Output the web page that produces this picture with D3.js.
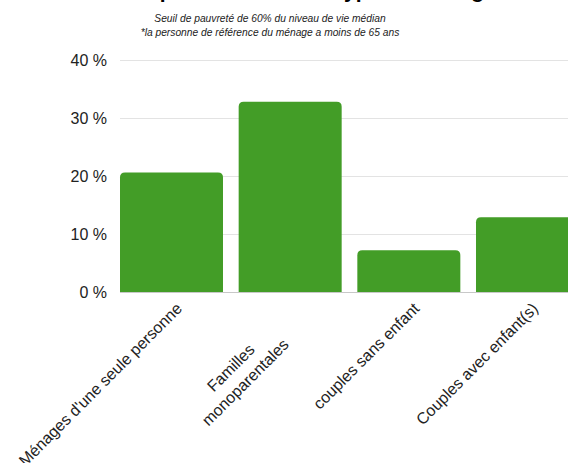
<!DOCTYPE html>
<html>
<head>
<meta charset="utf-8">
<script src="https://cdn.jsdelivr.net/npm/d3@7"></script>
<style>
  body { margin: 0; background: #fff; }
  svg { display: block; font-family: "Liberation Sans", Arial, sans-serif; }
</style>
</head>
<body>
<svg id="chart"></svg>
<script>
const title = 'Taux de pauvreté selon le type de ménage*';
const subtitle = [
  'Seuil de pauvreté de 60% du niveau de vie médian',
  '*la personne de référence du ménage a moins de 65 ans'
];
const categories = [
  ['Ménages d\'une seule personne'],
  ['Familles', 'monoparentales'],
  ['couples sans enfant'],
  ['Couples avec enfant(s)']
];
const values = [20.6, 32.8, 7.2, 12.9];
const yTicks = [0, 10, 20, 30, 40];

const width = 568;
const height = 463;
const margin = { top: 60, left: 120, bottom: 171 };
const plotRight = 579;
const barColor = '#439d27';
const radius = 5;

const svg = d3.select('#chart')
  .attr('width', width)
  .attr('height', height);

const x = d3.scaleBand()
  .domain(d3.range(categories.length))
  .range([margin.left, plotRight])
  .paddingInner(0.132)
  .paddingOuter(0);

const y = d3.scaleLinear()
  .domain([0, 40])
  .range([height - margin.bottom, margin.top]);

// title, mostly above the frame
svg.append('text')
  .attr('x', 76)
  .attr('y', -2.5)
  .attr('font-size', 21)
  .attr('font-weight', 'bold')
  .attr('fill', '#000')
  .text(title);

svg.selectAll('.subtitle')
  .data(subtitle)
  .enter()
  .append('text')
    .attr('class', 'subtitle')
    .attr('x', 270)
    .attr('y', (d, i) => 22 + i * 14)
    .attr('text-anchor', 'middle')
    .attr('font-size', 10.25)
    .attr('font-style', 'italic')
    .attr('fill', '#222')
    .text(d => d);

// grid
svg.selectAll('.grid')
  .data(yTicks)
  .enter()
  .append('line')
    .attr('class', 'grid')
    .attr('x1', margin.left)
    .attr('x2', width)
    .attr('y1', d => Math.round(y(d)) + 0.5)
    .attr('y2', d => Math.round(y(d)) + 0.5)
    .attr('stroke', d => d === 0 ? '#c8c8c8' : '#e3e3e3')
    .attr('stroke-width', 1);

svg.selectAll('.ytick')
  .data(yTicks)
  .enter()
  .append('text')
    .attr('class', 'ytick')
    .attr('x', 107)
    .attr('y', d => y(d))
    .attr('dy', '0.35em')
    .attr('text-anchor', 'end')
    .attr('font-size', 16)
    .attr('fill', '#222')
    .text(d => `${d} %`);

// bars with rounded tops
const barPath = (i) => {
  const x0 = x(i);
  const x1 = x0 + x.bandwidth();
  const y0 = y(0);
  const y1 = y(values[i]);
  const r = Math.min(radius, y0 - y1);
  return `M${x0},${y0}V${y1 + r}Q${x0},${y1} ${x0 + r},${y1}`
    + `H${x1 - r}Q${x1},${y1} ${x1},${y1 + r}V${y0}Z`;
};

svg.selectAll('.bar')
  .data(values)
  .enter()
  .append('path')
    .attr('class', 'bar')
    .attr('d', (d, i) => barPath(i))
    .attr('fill', barColor);

// rotated category labels
const lineH = 20.5;
const wrapShift = -34;
const wrapTop = -3.4;

const labels = svg.selectAll('.xlabel')
  .data(categories)
  .enter()
  .append('text')
    .attr('class', 'xlabel')
    .attr('font-size', 16)
    .attr('fill', '#222')
    .attr('transform', (d, i) => {
      const cx = x(i) + x.bandwidth() / 2;
      return `translate(${cx + 3.5},${301.5}) rotate(-45)`;
    });

labels.each(function (lines) {
  const t = d3.select(this);
  lines.forEach((line, j) => {
    t.append('tspan')
      .attr('text-anchor', 'end')
      .attr('x', 0)
      .attr('y', lines.length > 1 ? wrapTop + j * lineH : 0)
      .attr('dy', '0.71em')
      .text(line);
  });
});

// wrapped labels: lines centred on each other, block pulled back
labels.filter(d => d.length > 1).each(function () {
  const spans = d3.select(this).selectAll('tspan');
  const lens = spans.nodes().map(n => n.getComputedTextLength());
  const maxLen = d3.max(lens);
  spans.attr('x', (d, j) => wrapShift - (maxLen - lens[j]) / 2);
});
</script>
</body>
</html>
